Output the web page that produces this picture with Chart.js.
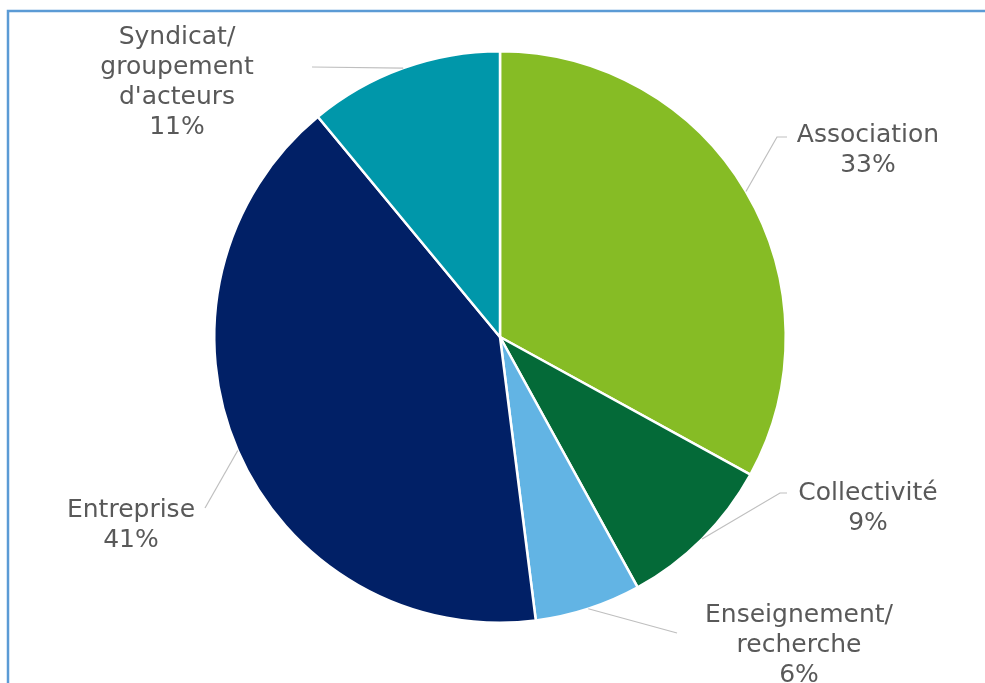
<!DOCTYPE html>
<html>
<head>
<meta charset="utf-8">
<script src="https://cdn.jsdelivr.net/npm/chart.js@4.4.0/dist/chart.umd.min.js"></script>
<style>
html,body{margin:0;padding:0;background:#fff;}
#wrap{position:relative;width:985px;height:683px;}
</style>
</head>
<body>
<div id="wrap"><canvas id="c" width="985" height="683"></canvas></div>
<script>
const categories = ["Association", "Collectivité", "Enseignement/\nrecherche", "Entreprise", "Syndicat/\ngroupement\nd'acteurs"];
const values = [33, 9, 6, 41, 11];
const colors = ["#86bc25", "#046a38", "#62b4e4", "#012066", "#0097aa"];

// label layout: first line center, leader elbow/end points
const labelLayout = [
  {x: 868, y: 135, pts: [[777,137],[787,137]]},
  {x: 868, y: 493, pts: [[780,493],[787,493]]},
  {x: 799, y: 615, pts: [[677,633]]},
  {x: 131, y: 510, pts: [[205,508]]},
  {x: 177, y: 37,  pts: [[312,67]]}
];

const labelPlugin = {
  id: 'labelPlugin',
  beforeDraw(chart) {
    const ctx = chart.ctx;
    ctx.save();
    ctx.fillStyle = '#fff';
    ctx.fillRect(0, 0, chart.width, chart.height);
    ctx.strokeStyle = '#5b9bd5';
    ctx.lineWidth = 2.5;
    ctx.beginPath();
    ctx.moveTo(8, 683);
    ctx.lineTo(8, 11);
    ctx.lineTo(985, 11);
    ctx.stroke();
    ctx.restore();
  },
  afterDatasetsDraw(chart) {
    const ctx = chart.ctx;
    const meta = chart.getDatasetMeta(0);
    const total = values.reduce((a, b) => a + b, 0);
    ctx.save();
    meta.data.forEach((arc, i) => {
      const mid = (arc.startAngle + arc.endAngle) / 2;
      const sx = arc.x + Math.cos(mid) * arc.outerRadius;
      const sy = arc.y + Math.sin(mid) * arc.outerRadius;
      const lay = labelLayout[i];
      ctx.strokeStyle = '#bfbfbf';
      ctx.lineWidth = 1.2;
      ctx.beginPath();
      ctx.moveTo(sx, sy);
      lay.pts.forEach(p => ctx.lineTo(p[0], p[1]));
      ctx.stroke();
      const lines = categories[i].split('\n');
      lines.push(Math.round(values[i] / total * 100) + '%');
      ctx.fillStyle = '#595959';
      ctx.font = '25px "DejaVu Sans"';
      ctx.textAlign = 'center';
      ctx.textBaseline = 'middle';
      lines.forEach((t, k) => ctx.fillText(t, lay.x, lay.y + k * 30));
    });
    ctx.restore();
  }
};

new Chart(document.getElementById('c'), {
  type: 'pie',
  data: {
    labels: categories,
    datasets: [{
      data: values,
      backgroundColor: colors,
      borderColor: '#ffffff',
      borderWidth: 2.5
    }]
  },
  options: {
    responsive: false,
    animation: false,
    layout: {padding: {top: 50, bottom: 59, left: 200, right: 185}},
    plugins: {legend: {display: false}, tooltip: {enabled: false}}
  },
  plugins: [labelPlugin]
});
</script>
</body>
</html>
